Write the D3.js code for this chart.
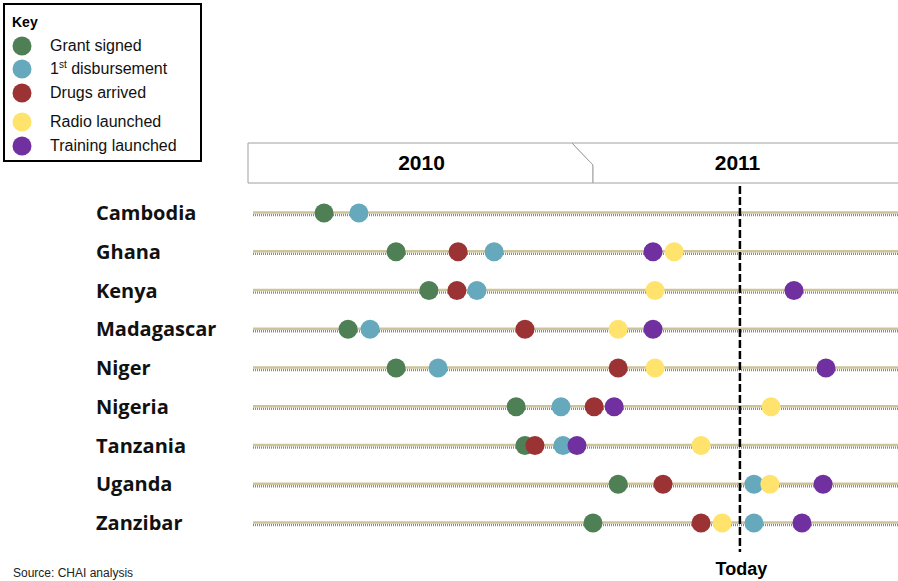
<!DOCTYPE html>
<html><head><meta charset="utf-8">
<script src="https://cdn.jsdelivr.net/npm/d3@7"></script>
<style>body{margin:0;background:#fff}svg{display:block}</style>
</head><body>
<script>
// Months since Jan 2010
const countries = ["Cambodia","Ghana","Kenya","Madagascar","Niger","Nigeria","Tanzania","Uganda","Zanzibar"];
const years = ["2010","2011"];
const milestones = ["Grant signed","1st disbursement","Drugs arrived","Radio launched","Training launched"];
const colors = ["#4f7f54","#66a9bd","#9b3233","#ffe36c","#7130a0"];
const grantSigned      = [2.59, 5.11, 6.26, 3.43, 5.11, 9.31, 9.62, 12.88, 12.0];
const firstDisbursement= [3.81, 8.54, 7.94, 4.20, 6.58, 10.88, 10.95, 17.63, 17.63];
const drugsArrived     = [null, 7.28, 7.24, 9.62, 12.88, 12.04, 9.97, 14.45, 15.78];
const radioLaunched    = [null, 14.84, 14.17, 12.88, 14.17, 18.23, 15.78, 18.19, 16.52];
const trainingLaunched = [null, 14.10, 19.03, 14.10, 20.15, 12.74, 11.44, 20.05, 19.31];
const today = 17.14;
const series = [grantSigned, firstDisbursement, drugsArrived, radioLaunched, trainingLaunched];

const W = 898, H = 581;
const svg = d3.select("body").append("svg").attr("width", W).attr("height", H);

const x = d3.scaleLinear().domain([0, 24]).range([250, 936]);
const y = d3.scalePoint().domain(countries).range([213, 523]);

// Year header boxes
const yTop = 143, yBot = 183, yMid = 165, notch = 21;
years.forEach((yr, i) => {
  const x0 = x(i * 12), x1 = x((i + 1) * 12);
  const left = i === 0 ? x0 - 2 : x0 - notch;
  const pts = [[left, yTop], [x1 - notch, yTop], [x1, yMid], [x1, yBot], [i === 0 ? left : x0, yBot]];
  if (i > 0) pts.push([x0, yMid]);
  svg.append("polygon").attr("points", pts.map(p => p.join(",")).join(" "))
    .attr("fill", "#fff").attr("stroke", "#a0a0a0").attr("stroke-width", 1);
  const cx = (x0 + Math.min(x1, W - 16)) / 2;
  svg.append("text").attr("x", cx).attr("y", 169.5)
    .attr("text-anchor", "middle").attr("font-family", "Liberation Sans, Arial, sans-serif")
    .attr("font-weight", "bold").attr("font-size", 21).text(yr);
});

// Timeline rows
const g = svg.append("g");
countries.forEach(c => {
  const yy = y(c);
  g.append("line").attr("x1", 253).attr("x2", W).attr("y1", yy + 2).attr("y2", yy + 2)
    .attr("stroke", "#8a8a8a").attr("stroke-width", 2.5).attr("stroke-dasharray", "1,1");
  g.append("line").attr("x1", 253).attr("x2", W).attr("y1", yy - 0.5).attr("y2", yy - 0.5)
    .attr("stroke", "#cdc49a").attr("stroke-width", 2.5);
  svg.append("text").attr("x", 96).attr("y", yy + 7)
    .attr("font-family", "Open Sans, sans-serif").attr("font-weight", "bold")
    .attr("font-size", 20).attr("fill", "#111").text(c);
});

// Today line
svg.append("line").attr("x1", x(today)).attr("x2", x(today)).attr("y1", 186).attr("y2", 552)
  .attr("stroke", "#000").attr("stroke-width", 2.5).attr("stroke-dasharray", "8,3");
svg.append("text").attr("x", x(today) + 1.5).attr("y", 575).attr("text-anchor", "middle")
  .attr("font-family", "Liberation Sans, Arial, sans-serif").attr("font-weight", "bold")
  .attr("font-size", 18).text("Today");

// Dots
series.forEach((s, si) => {
  svg.append("g").selectAll("circle")
    .data(countries.map((c, i) => ({c, v: s[i]})).filter(d => d.v != null))
    .join("circle").attr("cx", d => x(d.v)).attr("cy", d => y(d.c)).attr("r", 9.5)
    .attr("fill", colors[si]);
});

// Key
const key = svg.append("g");
key.append("rect").attr("x", 4).attr("y", 4).attr("width", 197).attr("height", 157)
  .attr("fill", "#fff").attr("stroke", "#000").attr("stroke-width", 2);
key.append("text").attr("x", 12).attr("y", 27).attr("font-family", "Liberation Sans, Arial, sans-serif")
  .attr("font-weight", "bold").attr("font-size", 14).text("Key");
const keyY = [46, 69, 93, 122, 146];
milestones.forEach((m, i) => {
  key.append("circle").attr("cx", 22).attr("cy", keyY[i]).attr("r", 9.5).attr("fill", colors[i]);
  const t = key.append("text").attr("x", 50).attr("y", keyY[i] + 5)
    .attr("font-family", "Liberation Sans, Arial, sans-serif").attr("font-size", 16).attr("fill", "#111");
  if (i === 1) {
    t.append("tspan").text("1");
    t.append("tspan").attr("font-size", 10).attr("dy", -6).text("st");
    t.append("tspan").attr("dy", 6).text(" disbursement");
  } else t.text(m);
});

svg.append("text").attr("x", 13).attr("y", 577).attr("font-family", "Liberation Sans, Arial, sans-serif")
  .attr("font-size", 12).attr("fill", "#222").text("Source: CHAI analysis");
</script>
</body></html>
